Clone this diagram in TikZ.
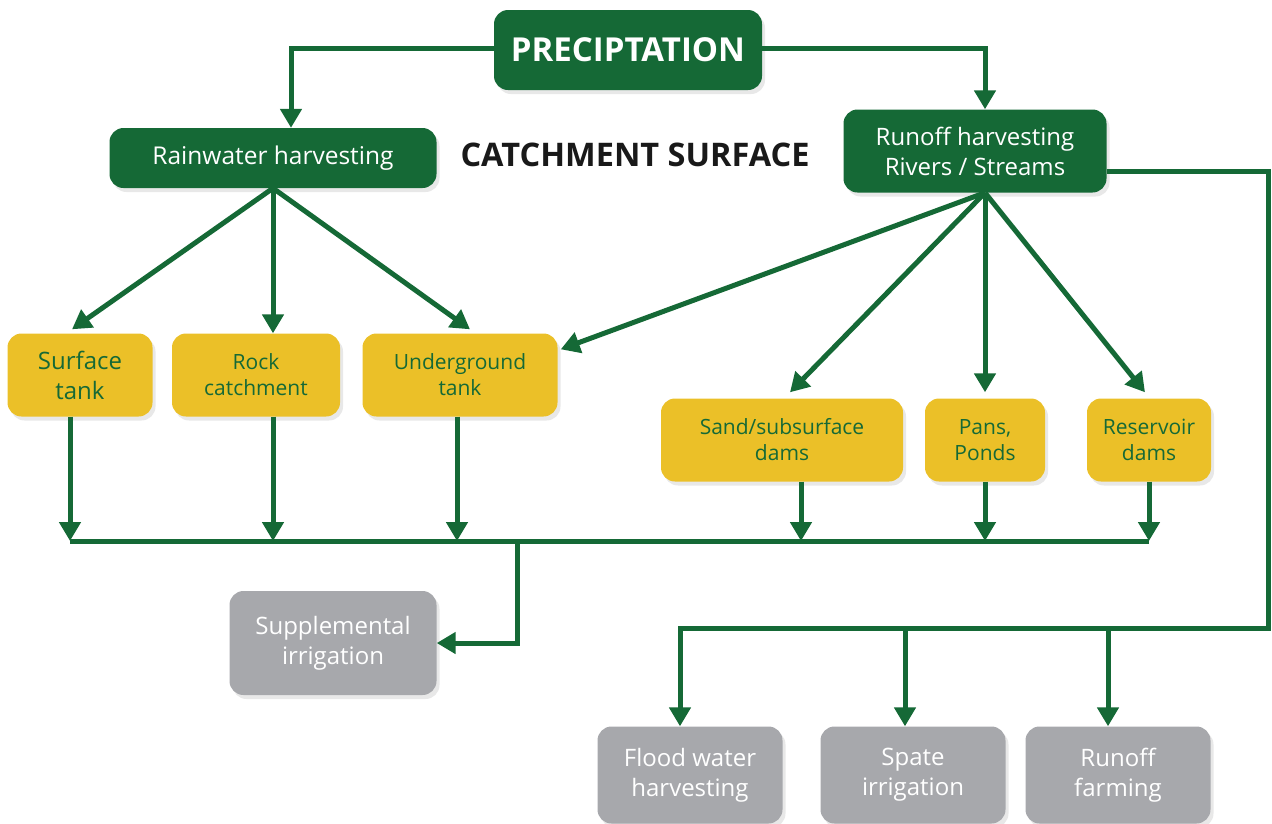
\documentclass[tikz,border=0pt]{standalone}
\usepackage{fontspec}
\setmainfont{Open Sans}
\usetikzlibrary{arrows.meta,shadows}
\definecolor{leaf}{HTML}{156936}
\definecolor{straw}{HTML}{EBC028}
\definecolor{stone}{HTML}{A7A8AC}
\tikzset{
  box/.style={rounded corners=14pt, inner sep=0pt, align=center,
    drop shadow={opacity=0.18, shadow xshift=3pt, shadow yshift=-4pt}},
  greenbox/.style={box, fill=leaf, text=white},
  yellowbox/.style={box, fill=straw, text=leaf},
  graybox/.style={box, fill=stone, text=white},
  link/.style={draw=leaf, line width=5pt},
  arr/.style={link, -{Triangle[width=21pt,length=19pt]}}
}
\begin{document}
\begin{tikzpicture}[x=1pt,y=-1pt]
	\useasboundingbox (0,0) rectangle (1272,823);

	% top level
	\node[greenbox, minimum width=268pt, minimum height=80pt,
		font=\fontsize{33}{38}\selectfont\bfseries] (precip) at (628,50) {PRECIPTATION};
	\node[greenbox, minimum width=327pt, minimum height=60pt,
		font=\fontsize{24.5}{30}\selectfont] (rainwater) at (273,158) {Rainwater harvesting};
	\node[greenbox, minimum width=263pt, minimum height=83pt,
		font=\fontsize{24}{30}\selectfont] (runoff) at (975,151) {Runoff harvesting\\Rivers / Streams};
	\node[font=\fontsize{32.5}{38}\selectfont\bfseries, text=black!90] (catch) at (635,155) {CATCHMENT SURFACE};

	% storage
	\node[yellowbox, minimum width=145pt, minimum height=83pt,
		font=\fontsize{24}{30}\selectfont] (surface) at (80,375) {Surface\\tank};
	\node[yellowbox, minimum width=168pt, minimum height=83pt,
		font=\fontsize{21}{26}\selectfont] (rock) at (256,375) {Rock\\catchment};
	\node[yellowbox, minimum width=195pt, minimum height=83pt,
		font=\fontsize{21}{26}\selectfont] (under) at (460,375) {Underground\\tank};
	\node[yellowbox, minimum width=242pt, minimum height=83pt,
		font=\fontsize{21}{26}\selectfont] (sand) at (782,440) {Sand/subsurface\\dams};
	\node[yellowbox, minimum width=120pt, minimum height=83pt,
		font=\fontsize{21}{26}\selectfont] (pans) at (985,440) {Pans,\\Ponds};
	\node[yellowbox, minimum width=124pt, minimum height=83pt,
		font=\fontsize{21}{26}\selectfont] (reservoir) at (1149,440) {Reservoir\\dams};

	% uses
	\node[graybox, minimum width=207pt, minimum height=104pt,
		font=\fontsize{24}{30}\selectfont] (supp) at (333,643) {Supplemental\\irrigation};
	\node[graybox, minimum width=185pt, minimum height=97pt,
		font=\fontsize{24}{30}\selectfont] (flood) at (690,775) {Flood water\\harvesting};
	\node[graybox, minimum width=185pt, minimum height=97pt,
		font=\fontsize{24}{30}\selectfont] (spate) at (913,775) {Spate\\irrigation};
	\node[graybox, minimum width=185pt, minimum height=97pt,
		font=\fontsize{24}{30}\selectfont] (farming) at (1118,775) {Runoff\\farming};

	\coordinate (bus) at (517,541);
	\coordinate (feed) at (1268,628);

	% precipitation split
	\draw[arr] ([yshift=2pt]precip.west) -| ([xshift=18pt]rainwater.north);
	\draw[arr] ([yshift=2pt]precip.east) -| ([xshift=10pt]runoff.north);

	% rainwater branches
	\draw[arr] (rainwater.south) -- ([xshift=-8pt,yshift=4pt]surface.north);
	\draw[arr] (rainwater.south) -- ([xshift=17pt]rock.north);
	\draw[arr] (rainwater.south) -- ([xshift=10pt,yshift=4pt]under.north);

	% runoff branches
	\draw[arr] ([xshift=10pt]runoff.south) -- ([xshift=3pt,yshift=-16pt]under.north east);
	\draw[arr] ([xshift=10pt]runoff.south) -- ([xshift=8pt,yshift=6pt]sand.north);
	\draw[arr] ([xshift=10pt]runoff.south) -- ([yshift=6pt]pans.north);
	\draw[arr] ([xshift=10pt]runoff.south) -- ([xshift=-4pt,yshift=6pt]reservoir.north);

	% collecting line
	\draw[arr] ([xshift=-10pt]surface.south) -- ([xshift=-10pt]surface.south |- bus);
	\draw[arr] ([xshift=17pt]rock.south) -- ([xshift=17pt]rock.south |- bus);
	\draw[arr] ([xshift=-3pt]under.south) -- ([xshift=-3pt]under.south |- bus);
	\draw[arr] ([xshift=19pt]sand.south) -- ([xshift=19pt]sand.south |- bus);
	\draw[arr] (pans.south) -- (pans.south |- bus);
	\draw[arr] (reservoir.south) -- (reservoir.south |- bus);
	\draw[link] ([xshift=-10pt]surface.south |- bus) -- (reservoir.south |- bus);
	\draw[arr] (bus) |- (supp.east);

	% runoff to the fields
	\draw[arr] ([yshift=-20pt]runoff.east) -| (feed) -| ([xshift=-10pt]flood.north);
	\draw[arr] ([xshift=-8pt]spate.north |- feed) -- ([xshift=-8pt]spate.north);
	\draw[arr] ([xshift=-10pt]farming.north |- feed) -- ([xshift=-10pt]farming.north);
\end{tikzpicture}
\end{document}
